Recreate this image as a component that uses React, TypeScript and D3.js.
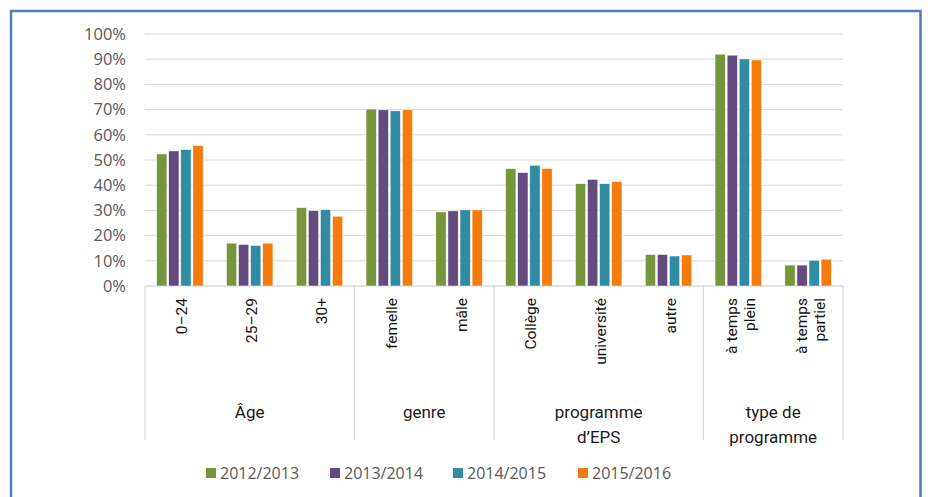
import * as d3 from 'd3';

const categories = ['0–24', '25–29', '30+', 'femelle', 'mâle', 'Collège', 'université', 'autre', 'à temps|plein', 'à temps|partiel'];
const groups = [
  { label: ['Âge'], size: 3 },
  { label: ['genre'], size: 2 },
  { label: ['programme', 'd’EPS'], size: 3 },
  { label: ['type de', 'programme'], size: 2 },
];
const series = ['2012/2013', '2013/2014', '2014/2015', '2015/2016'];
const colors = ['#77963B', '#634B80', '#318BA3', '#F57B0C'];

const v2012 = [52.4, 17.0, 31.1, 70.2, 29.4, 46.6, 40.6, 12.5, 92.0, 8.3];
const v2013 = [53.6, 16.5, 29.9, 69.9, 29.8, 45.0, 42.3, 12.5, 91.6, 8.3];
const v2014 = [54.1, 16.1, 30.3, 69.5, 30.2, 47.9, 40.6, 11.9, 90.1, 10.2];
const v2015 = [55.7, 17.0, 27.7, 69.9, 30.2, 46.6, 41.4, 12.3, 89.7, 10.6];
const values = [v2012, v2013, v2014, v2015];

const yTicks = [0, 10, 20, 30, 40, 50, 60, 70, 80, 90, 100];

const W = 928;
const H = 497;
const plotLeft = 145;
const plotRight = 843;
const plotTop = 34;
const plotBottom = 286;
const axisBoxBottom = 440;

export default function App() {
  const x = d3.scaleBand().domain(categories).range([plotLeft, plotRight]).padding(0);
  const bw = x.bandwidth();
  const x1 = d3.scaleBand().domain(series).range([bw * 0.167, bw * 0.833]).paddingInner(0.15);
  const y = d3.scaleLinear().domain([0, 100]).range([plotBottom, plotTop]);

  // group boundaries
  let idx = 0;
  const groupSpans = groups.map(g => {
    const start = x(categories[idx])!;
    const end = x(categories[idx + g.size - 1])! + bw;
    idx += g.size;
    return { ...g, start, end };
  });
  const boundaries = [plotLeft, ...groupSpans.map(g => g.end)];

  const legendX = [206, 330, 453, 578];

  return (
    <svg width={W} height={H} style={{ position: 'absolute', left: 0, top: 0 }}>
      <rect x={0} y={0} width={W} height={H} fill="#ffffff" />
      <rect x={11} y={11} width={909.5} height={H} fill="none" stroke="#4A7EBB" strokeWidth={2.5} />

      {yTicks.map(t => (
        <g key={t}>
          <line x1={plotLeft} x2={plotRight} y1={y(t)} y2={y(t)} stroke="#D9D9D9" strokeWidth={1} />
          <text x={126} y={y(t)} dy="0.35em" textAnchor="end" fill="#595959"
            style={{ font: '16.5px "Open Sans", "Liberation Sans", sans-serif' }}>{t}%</text>
        </g>
      ))}

      {/* axis box */}
      <line x1={plotLeft} x2={plotRight} y1={plotBottom} y2={plotBottom} stroke="#D9D9D9" />
      {boundaries.map((b, i) => (
        <line key={i} x1={b} x2={b} y1={plotBottom} y2={axisBoxBottom} stroke="#D9D9D9" strokeWidth={1.2} />
      ))}

      {values.map((vals, si) => (
        <g key={series[si]}>
          {categories.map((c, ci) => (
            <rect key={c}
              x={x(c)! + x1(series[si])!}
              y={y(vals[ci])}
              width={x1.bandwidth()}
              height={y(0) - y(vals[ci])}
              fill={colors[si]}
              stroke="#ffffff" strokeWidth={0.5} />
          ))}
        </g>
      ))}

      {categories.map(c => {
        const lines = c.split('|');
        const cx = x(c)! + bw / 2 + 2;
        const lh = 18;
        return (
          <text key={c} transform={`translate(${cx},298) rotate(-90)`} textAnchor="end" fill="#111111"
            style={{ font: '15.5px Roboto, "Noto Sans", sans-serif' }}>
            {lines.map((l, li) => (
              <tspan key={li} x={0} y={(li - (lines.length - 1) / 2) * lh} dy="0.35em">{l}</tspan>
            ))}
          </text>
        );
      })}

      {groupSpans.map(g => (
        <text key={g.label.join()} x={(g.start + g.end) / 2} y={418} textAnchor="middle" fill="#1a1a1a"
          style={{ font: '17px Roboto, "Noto Sans", sans-serif' }}>
          {g.label.map((l, li) => (
            <tspan key={li} x={(g.start + g.end) / 2} dy={li === 0 ? 0 : 25}>{l}</tspan>
          ))}
        </text>
      ))}

      {series.map((s, i) => (
        <g key={s} transform={`translate(${legendX[i]},473)`}>
          <rect x={0} y={-5} width={10} height={10} fill={colors[i]} />
          <text x={14} y={0} dy="0.35em" fill="#595959"
            style={{ font: '16px "Open Sans", "Liberation Sans", sans-serif' }}>{s}</text>
        </g>
      ))}
    </svg>
  );
}
